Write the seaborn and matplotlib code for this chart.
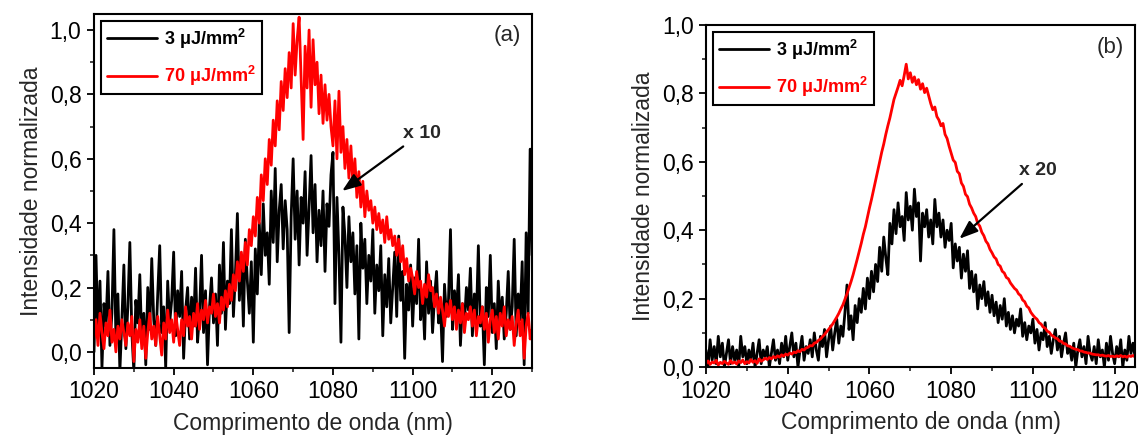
import numpy as np
import pandas as pd
import matplotlib
matplotlib.use("Agg")
import matplotlib.pyplot as plt
from matplotlib.ticker import MultipleLocator, FuncFormatter
import seaborn as sns

# ---------------- data ----------------
# Panel (a): wavelength grid 1020-1130 nm, 0.5 nm step
wl_a = np.arange(1020.0, 1130.01, 0.5)

low_a = [  # 3 uJ/mm2 (x10)
    0.00, 0.30, 0.05, 0.22, -0.05, 0.15, 0.08, 0.25, 0.02, 0.12,
    0.38, 0.04, 0.18, -0.06, 0.10, 0.27, 0.01, 0.14, 0.34, 0.06,
    -0.06, 0.16, 0.09, 0.24, 0.03, 0.12, -0.04, 0.20, 0.07, 0.29,
    0.10, 0.02, 0.18, 0.33, 0.06, 0.14, -0.05, 0.22, 0.09, 0.16,
    0.31, 0.05, 0.19, 0.11, 0.25, -0.02, 0.13, 0.20, 0.04, 0.17,
    0.08, 0.26, 0.03, 0.12, 0.30, 0.06, 0.19, -0.04, 0.14, 0.23,
    0.09, 0.18, 0.02, 0.27, 0.12, 0.34, 0.07, 0.22, 0.15, 0.38,
    0.11, 0.24, 0.43, 0.16, 0.30, 0.08, 0.35, 0.22, 0.12, 0.28,
    0.03, 0.32, 0.18, 0.40, 0.24, 0.46, 0.30, 0.37, 0.21, 0.50,
    0.34, 0.57, 0.28, 0.44, 0.52, 0.32, 0.47, 0.38, 0.06, 0.42,
    0.60, 0.35, 0.50, 0.27, 0.48, 0.40, 0.56, 0.30, 0.45, 0.61,
    0.37, 0.52, 0.28, 0.44, 0.33, 0.50, 0.25, 0.46, 0.39, 0.55,
    0.62, 0.15, 0.48, 0.30, 0.03, 0.45, 0.36, 0.20, 0.42, 0.28,
    0.37, 0.18, 0.33, 0.04, 0.40, 0.26, 0.35, 0.15, 0.30, 0.22,
    0.38, 0.12, 0.27, 0.19, 0.33, 0.05, 0.24, 0.14, 0.29, 0.09,
    0.20, 0.31, 0.11, 0.36, 0.16, 0.25, -0.02, 0.21, 0.13, 0.27,
    0.08, 0.23, 0.15, 0.35, 0.10, 0.19, 0.04, 0.28, 0.12, 0.22,
    0.06, 0.17, 0.25, 0.09, 0.14, -0.03, 0.21, 0.11, 0.16, 0.38,
    0.07, 0.19, 0.12, 0.24, 0.02, 0.15, 0.09, 0.20, 0.13, 0.26,
    0.05, 0.18, 0.10, 0.33, 0.08, 0.14, -0.04, 0.20, 0.11, 0.30,
    0.06, 0.15, 0.01, 0.22, 0.09, 0.17, 0.04, 0.12, 0.25, 0.07,
    0.14, 0.35, 0.05, 0.18, 0.10, 0.28, -0.04, 0.37, 0.12, 0.63,
    0.30,
]

high_a = [  # 70 uJ/mm2
    0.04, 0.10, 0.02, 0.12, 0.06, 0.01, 0.09, 0.05, 0.13, 0.03,
    0.07, 0.00, 0.08, 0.04, 0.10, 0.06, 0.02, 0.09, 0.05, 0.11,
    -0.03, 0.07, 0.03, 0.10, 0.01, 0.08, -0.02, 0.06, 0.12, 0.04,
    0.08, 0.02, 0.11, 0.05, -0.01, 0.09, 0.04, 0.13, 0.06, 0.10,
    0.03, 0.12, 0.07, 0.02, 0.10, 0.05, 0.14, 0.08, 0.11, 0.04,
    0.12, 0.08, 0.15, 0.07, 0.13, 0.10, 0.16, 0.09, 0.14, 0.12,
    0.18, 0.11, 0.15, 0.09, 0.17, 0.13, 0.19, 0.14, 0.21, 0.16,
    0.24, 0.19, 0.28, 0.22, 0.31, 0.25, 0.34, 0.27, 0.38, 0.33,
    0.42, 0.36, 0.48, 0.40, 0.55, 0.47, 0.60, 0.52, 0.66, 0.58,
    0.72, 0.64, 0.78, 0.69, 0.84, 0.75, 0.88, 0.79, 0.93, 0.82,
    1.02, 0.86, 0.97, 1.04, 0.85, 0.66, 0.95, 0.82, 1.00, 0.76,
    0.97, 0.83, 0.90, 0.74, 0.86, 0.71, 0.83, 0.72, 0.80, 0.70,
    0.64, 0.78, 0.60, 0.81, 0.62, 0.70, 0.57, 0.66, 0.54, 0.64,
    0.52, 0.60, 0.48, 0.56, 0.45, 0.53, 0.42, 0.50, 0.44, 0.47,
    0.40, 0.45, 0.38, 0.43, 0.37, 0.41, 0.34, 0.42, 0.35, 0.38,
    0.33, 0.36, 0.30, 0.35, 0.28, 0.33, 0.24, 0.29, 0.22, 0.26,
    0.23, 0.18, 0.25, 0.20, 0.22, 0.15, 0.21, 0.17, 0.24, 0.19,
    0.20, 0.14, 0.18, 0.12, 0.17, 0.13, 0.08, 0.15, 0.11, 0.16,
    0.10, 0.14, 0.07, 0.13, 0.09, 0.15, 0.06, 0.12, 0.10, 0.14,
    0.08, 0.13, 0.05, 0.11, 0.09, 0.14, 0.07, 0.12, 0.03, 0.10,
    0.13, 0.06, 0.11, 0.04, 0.12, 0.08, 0.14, 0.05, 0.10, 0.07,
    0.11, 0.02, 0.09, 0.13, 0.05, 0.10, -0.02, 0.08, 0.12, 0.04,
    0.07,
]

# Panel (b): wavelength grid 1020-1125 nm, 0.5 nm step
wl_b = np.arange(1020.0, 1125.01, 0.5)

low_b = [  # 3 uJ/mm2 (x20)
    0.05, 0.00, 0.08, 0.02, 0.06, 0.01, 0.09, 0.03, 0.07, 0.00,
    0.04, 0.08, 0.01, 0.06, 0.02, 0.05, 0.00, 0.09, 0.03, 0.06,
    0.01, 0.05, 0.02, 0.07, 0.00, 0.04, 0.08, 0.01, 0.05, 0.03,
    0.06, 0.00, 0.04, 0.08, 0.02, 0.05, 0.01, 0.07, 0.03, 0.09,
    0.02, 0.06, 0.10, 0.03, 0.07, 0.00, 0.05, 0.09, 0.02, 0.06,
    0.04, 0.08, 0.03, 0.10, 0.05, 0.02, 0.09, 0.06, 0.11, 0.03,
    0.08, 0.12, 0.05, 0.10, 0.14, 0.07, 0.12, 0.09, 0.16, 0.24,
    0.11, 0.15, 0.08, 0.18, 0.13, 0.20, 0.16, 0.23, 0.17, 0.26,
    0.20, 0.28, 0.22, 0.30, 0.25, 0.35, 0.28, 0.38, 0.32, 0.27,
    0.42, 0.36, 0.46, 0.39, 0.48, 0.41, 0.44, 0.37, 0.51, 0.43,
    0.47, 0.40, 0.52, 0.44, 0.48, 0.31, 0.45, 0.41, 0.46, 0.38,
    0.43, 0.36, 0.49, 0.41, 0.45, 0.38, 0.43, 0.35, 0.40, 0.37,
    0.42, 0.29, 0.36, 0.31, 0.35, 0.26, 0.33, 0.28, 0.34, 0.23,
    0.28, 0.22, 0.27, 0.17, 0.24, 0.20, 0.25, 0.18, 0.22, 0.16,
    0.21, 0.15, 0.19, 0.13, 0.18, 0.14, 0.20, 0.12, 0.16, 0.11,
    0.15, 0.10, 0.14, 0.12, 0.17, 0.09, 0.13, 0.08, 0.12, 0.10,
    0.14, 0.07, 0.11, 0.05, 0.10, 0.08, 0.13, 0.06, 0.09, 0.04,
    0.08, 0.11, 0.05, 0.09, 0.03, 0.07, 0.10, 0.04, 0.06, 0.02,
    0.07, 0.00, 0.05, 0.08, 0.03, 0.06, 0.01, 0.09, 0.04, 0.02,
    0.06, 0.01, 0.08, 0.03, 0.05, 0.00, 0.07, 0.02, 0.09, 0.04,
    0.01, 0.06, 0.03, 0.08, 0.00, 0.05, 0.02, 0.09, 0.04, 0.07,
    0.03,
]

high_b = [  # 70 uJ/mm2
    0.010, 0.018, 0.008, 0.015, 0.012, 0.020, 0.006, 0.014, 0.010, 0.017,
    0.012, 0.008, 0.019, 0.011, 0.015, 0.009, 0.018, 0.013, 0.021, 0.010,
    0.016, 0.012, 0.022, 0.014, 0.019, 0.011, 0.024, 0.017, 0.021, 0.026,
    0.022, 0.028, 0.024, 0.031, 0.027, 0.033, 0.029, 0.036, 0.032, 0.038,
    0.035, 0.041, 0.038, 0.044, 0.042, 0.048, 0.045, 0.052, 0.050, 0.056,
    0.058, 0.063, 0.062, 0.070, 0.072, 0.078, 0.082, 0.089, 0.095, 0.103,
    0.110, 0.118, 0.126, 0.136, 0.146, 0.157, 0.170, 0.182, 0.198, 0.214,
    0.232, 0.250, 0.270, 0.292, 0.315, 0.338, 0.362, 0.388, 0.410, 0.438,
    0.465, 0.490, 0.518, 0.545, 0.572, 0.600, 0.628, 0.652, 0.680, 0.705,
    0.728, 0.755, 0.782, 0.800, 0.818, 0.838, 0.822, 0.852, 0.885, 0.842,
    0.860, 0.832, 0.848, 0.825, 0.840, 0.812, 0.828, 0.802, 0.815, 0.792,
    0.770, 0.752, 0.760, 0.732, 0.722, 0.705, 0.712, 0.680, 0.668, 0.645,
    0.625, 0.605, 0.598, 0.572, 0.565, 0.538, 0.528, 0.505, 0.498, 0.476,
    0.465, 0.450, 0.440, 0.420, 0.412, 0.394, 0.384, 0.368, 0.360, 0.344,
    0.334, 0.322, 0.316, 0.300, 0.295, 0.280, 0.275, 0.262, 0.258, 0.246,
    0.238, 0.230, 0.225, 0.214, 0.209, 0.196, 0.191, 0.178, 0.173, 0.160,
    0.152, 0.145, 0.140, 0.130, 0.126, 0.117, 0.114, 0.105, 0.102, 0.094,
    0.090, 0.085, 0.083, 0.076, 0.075, 0.069, 0.068, 0.062, 0.061, 0.057,
    0.054, 0.052, 0.051, 0.047, 0.047, 0.044, 0.043, 0.041, 0.041, 0.038,
    0.037, 0.036, 0.036, 0.034, 0.035, 0.033, 0.032, 0.034, 0.031, 0.032,
    0.030, 0.033, 0.031, 0.034, 0.030, 0.032, 0.029, 0.033, 0.031, 0.034,
    0.030,
]

label_low = r"3 μJ/mm$^{\mathbf{2}}$"
label_high = r"70 μJ/mm$^{\mathbf{2}}$"
xticks = [1020, 1040, 1060, 1080, 1100, 1120]
yticks = [0.0, 0.2, 0.4, 0.6, 0.8, 1.0]

# ---------------- style ----------------
sns.set_style("ticks")
plt.rcParams["font.family"] = ["Liberation Sans", "DejaVu Sans"]
plt.rcParams["mathtext.fontset"] = "custom"
plt.rcParams["mathtext.rm"] = "Liberation Sans"
plt.rcParams["mathtext.bf"] = "Liberation Sans:bold"

fig = plt.figure(figsize=(11.38, 4.36), dpi=100)
ax_a = fig.add_axes([0.0826, 0.156, 0.385, 0.812])
ax_b = fig.add_axes([0.6204, 0.158, 0.377, 0.785])

comma = FuncFormatter(lambda v, p: f"{v:.1f}".replace(".", ","))


def draw_panel(ax, wl, low, high, xlim, ylim, tag, tag_y, factor, txt_xy, arrow_xy):
    df = pd.DataFrame({"wl": wl, "low": low, "high": high})
    sns.lineplot(data=df, x="wl", y="low", color="black", lw=2.0,
                 estimator=None, ax=ax, label=label_low)
    sns.lineplot(data=df, x="wl", y="high", color="#ff0000", lw=2.0,
                 estimator=None, ax=ax, label=label_high)
    ax.set_xlim(*xlim)
    ax.set_ylim(*ylim)
    ax.set_xticks(xticks)
    ax.set_yticks(yticks)
    ax.xaxis.set_minor_locator(MultipleLocator(10))
    ax.yaxis.set_minor_locator(MultipleLocator(0.1))
    ax.yaxis.set_major_formatter(comma)
    ax.tick_params(which="major", length=5, width=1.3, labelsize=16.5,
                   direction="out", colors="black", pad=4)
    ax.tick_params(which="minor", length=3, width=1.2, direction="out")
    for sp in ax.spines.values():
        sp.set_visible(True)
        sp.set_linewidth(1.5)
        sp.set_color("black")
    ax.set_xlabel("Comprimento de onda (nm)", fontsize=16.5, labelpad=6)
    ax.set_ylabel("Intensidade normalizada", fontsize=16.5, labelpad=5)
    leg = ax.legend(loc="upper left", frameon=True, fancybox=False,
                    edgecolor="black", framealpha=1, labelcolor="linecolor",
                    prop={"weight": "bold", "size": 13}, handlelength=2.8,
                    borderaxespad=0.4, borderpad=0.3, labelspacing=0.75,
                    handletextpad=0.4)
    leg.get_frame().set_linewidth(1.5)
    ax.text(0.975, tag_y, tag, transform=ax.transAxes, ha="right", va="top",
            fontsize=16)
    ax.annotate(factor, xy=arrow_xy, xytext=txt_xy, fontsize=14,
                fontweight="bold", ha="left", va="center",
                arrowprops=dict(arrowstyle="-|>,head_length=0.8,head_width=0.3",
                                color="black", lw=1.6, shrinkA=2, shrinkB=0))


draw_panel(ax_a, wl_a, low_a, high_a, (1020, 1130), (-0.05, 1.05), "(a)", 0.97,
           "x 10", (1097.5, 0.68), (1082.3, 0.50))
draw_panel(ax_b, wl_b, low_b, high_b, (1020, 1125), (0.0, 1.0), "(b)", 0.965,
           "x 20", (1096.5, 0.575), (1082.0, 0.375))

fig.savefig("out.png", dpi=100)
